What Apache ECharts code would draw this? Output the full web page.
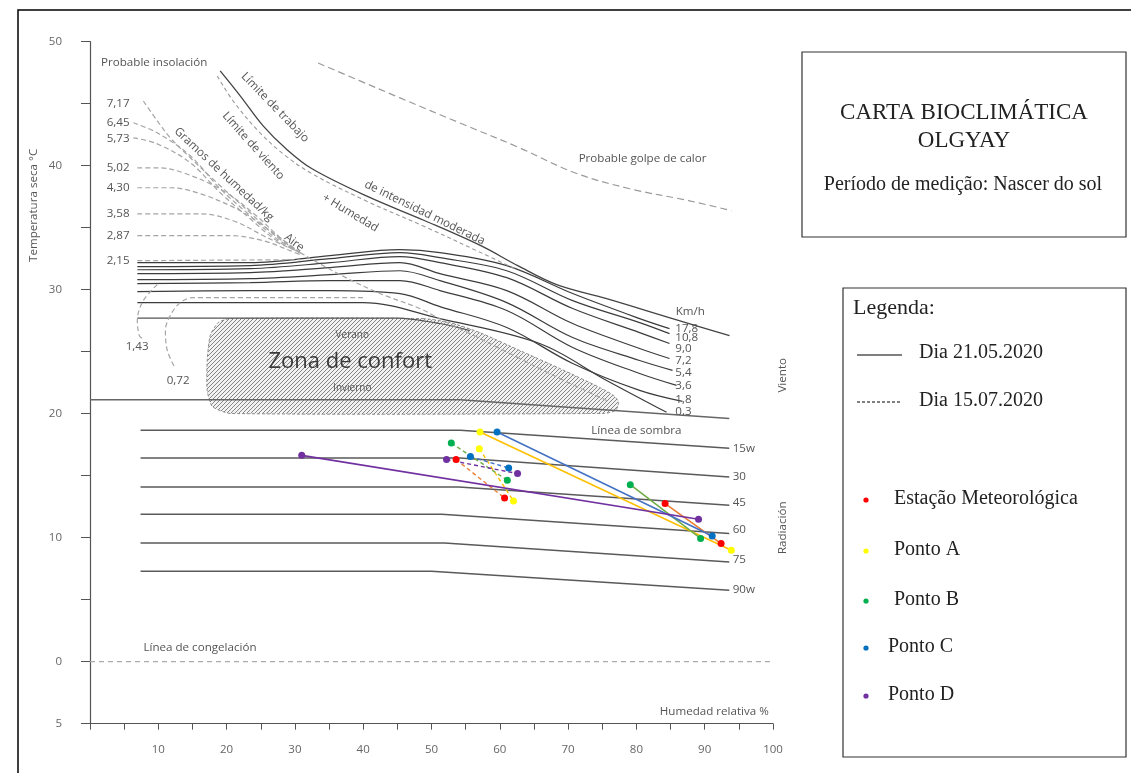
<!DOCTYPE html>
<html><head><meta charset="utf-8">
<script src="https://cdn.jsdelivr.net/npm/echarts/dist/echarts.min.js"></script>
<style>html,body{margin:0;padding:0;background:#fff}#c{width:1131px;height:773px}</style>
</head><body><div id="c"></div>
<script>
// ---------- measured data (x = Humedad relativa %, y = Temperatura seca °C) ----------
const stationNames = ['Estação Meteorológica', 'Ponto A', 'Ponto B', 'Ponto C', 'Ponto D'];
const dayNames = ['Dia 21.05.2020', 'Dia 15.07.2020'];
// Dia 21.05.2020 (solid)
const estacao21 = [[84.2, 12.75], [92.4, 9.53]];
const pontoA21  = [[57.1, 18.52], [93.9, 8.99]];
const pontoB21  = [[79.1, 14.28], [89.4, 9.94]];
const pontoC21  = [[59.6, 18.52], [91.1, 10.14]];
const pontoD21  = [[31.0, 16.64], [89.1, 11.49]];
// Dia 15.07.2020 (dashed)
const estacao15 = [[53.6, 16.30], [60.7, 13.20]];
const pontoA15  = [[57.0, 17.18], [62.0, 12.96]];
const pontoB15  = [[52.9, 17.63], [61.1, 14.63]];
const pontoC15  = [[55.7, 16.54], [61.3, 15.62]];
const pontoD15  = [[52.2, 16.30], [62.6, 15.17]];

// ---------- Olgyay chart background curves ----------
const rad15 = [[7.4, 18.66], [54.2, 18.66], [93.6, 17.21]];
const rad30 = [[7.4, 16.43], [54.2, 16.43], [93.6, 14.90]];
const rad45 = [[7.4, 14.09], [54.0, 14.09], [93.6, 12.62]];
const rad60 = [[7.4, 11.89], [51.5, 11.89], [93.6, 10.34]];
const rad75 = [[7.4, 9.58], [51.9, 9.58], [93.6, 8.05]];
const rad90 = [[7.4, 7.30], [50.0, 7.30], [93.6, 5.77]];
const sombra = [[0, 21.13], [54.2, 21.13], [93.6, 19.62]];
const congelacion = [[0, 0], [100, 0]];

const wind178 = [[6.93,32.18],[23.45,32.18],[35.15,32.75],[45.39,33.23],[51.23,32.99],[61.02,31.94],[70.67,29.69],[80.47,27.67],[84.85,26.86]];
const wind108 = [[6.93,31.86],[23.45,31.94],[35.15,32.50],[45.39,32.99],[51.23,32.58],[61.02,31.53],[70.67,29.12],[80.47,27.35],[84.85,26.46]];
const wind90  = [[6.93,31.61],[23.45,31.70],[35.15,32.18],[45.39,32.67],[51.23,32.18],[61.02,30.97],[70.67,28.48],[80.47,26.54],[84.85,25.66]];
const wind72  = [[6.93,31.29],[23.45,31.37],[35.15,31.78],[45.39,32.18],[51.23,31.29],[61.02,29.93],[70.67,27.27],[80.47,25.26],[84.85,24.45]];
const wind54  = [[6.93,30.81],[23.45,30.89],[35.15,31.21],[45.39,31.53],[51.23,30.73],[61.02,28.96],[70.67,26.14],[80.47,24.29],[85.29,23.49]];
const wind36  = [[6.93,30.49],[23.45,30.57],[35.15,30.73],[45.39,30.73],[51.23,29.93],[61.02,28.32],[70.67,25.34],[80.47,23.24],[85.88,22.28]];
const wind18  = [[6.93,29.85],[23.45,29.93],[35.15,29.93],[45.39,29.69],[51.23,28.64],[61.02,26.95],[70.67,24.05],[80.47,21.88],[86.75,20.99]];
const wind03  = [[6.93,28.96],[23.45,28.96],[39.97,28.96],[51.23,27.67],[65.85,25.66],[75.64,22.68],[84.42,20.11]];
const verano  = [[6.93,27.71],[44.94,27.71],[51.23,27.27],[55.61,26.70]];

const trabajo = [[19.06,47.64],[21.99,45.63],[25.35,43.21],[28.71,41.36],[32.51,39.75],[40.70,37.50],[49.04,35.56],[57.22,33.55],[62.63,31.94],[68.33,30.41],[75.64,29.28],[85.29,27.67],[93.63,26.30]];
const limViento = [[18.63,47.24],[20.96,45.22],[24.62,42.81],[28.27,40.96],[32.51,39.35],[40.70,37.09],[49.04,35.08],[57.22,32.99],[62.19,31.70]];
const golpeCalor = [[33.39,48.28],[39.53,46.84],[45.39,45.47],[54.44,43.38],[62.92,41.44],[70.96,39.43],[79.01,38.14],[87.78,37.17],[93.92,36.37]];

const hum717 = [[7.81,45.22],[9.85,43.62],[11.75,42.25],[14.68,40.64],[19.06,38.38],[23.45,36.21],[27.11,34.36],[30.76,32.99]];
const hum645 = [[6.35,43.46],[9.85,42.65],[14.68,40.80],[19.06,38.14],[23.45,35.97],[27.11,34.20],[30.76,32.99]];
const hum573 = [[6.35,42.25],[9.85,41.76],[14.68,40.24],[19.06,37.82],[23.45,35.72],[27.11,34.04],[30.76,32.99]];
const hum502 = [[6.93,39.83],[9.85,39.83],[13.65,39.43],[19.50,37.98],[24.18,36.04],[27.84,34.20],[30.76,32.99]];
const hum430 = [[6.93,38.22],[11.75,38.22],[16.14,37.74],[21.99,36.37],[26.37,34.76],[30.76,32.99]];
const hum358 = [[6.93,36.12],[16.14,36.12],[20.96,35.56],[25.94,34.20],[30.76,32.99]];
const hum287 = [[6.93,34.36],[20.53,34.36],[25.35,33.95],[29.30,33.15],[30.76,32.83]];
const hum215 = [[6.93,32.34],[30.76,32.42]];
const hum143 = [[9.85,30.41],[7.81,29.12],[6.93,27.51],[7.22,26.30],[7.66,26.06]];
const hum072 = [[39.97,29.36],[15.12,29.36],[13.22,28.96],[11.75,27.91],[11.04,26.70],[11.32,25.10],[12.49,23.65]];
const aire = [[30.76,32.99],[36.61,31.21],[42.46,29.69],[48.30,28.48],[52.25,27.35],[55.61,26.46],[62.92,24.45],[68.77,22.84],[75.64,21.07]];

const comfortZone = [[48.74,27.67],[52.69,27.35],[57.08,26.54],[62.92,25.10],[68.77,23.65],[74.62,22.12],[76.67,21.47],[77.40,20.91],[76.96,20.27],[75.35,20.02],[20.53,20.02],[17.90,20.59],[17.16,21.88],[17.16,24.29],[17.60,26.30],[18.77,27.35],[20.53,27.67]];

// tick labels
const yTickText = {'-5':'5','0':'0','10':'10','20':'20','30':'30','40':'40','50':'50'};
const xTickText = {10:'10',20:'20',30:'30',40:'40',50:'50',60:'60',70:'70',80:'80',90:'90',100:'100'};

// annotations [x, y, text, styleKey]
const notes = [
  [9.4, 48.3, 'Probable insolación', 'plain'],
  [27.1, 44.7, 'Límite de trabajo', 'trabajo'],
  [23.9, 41.6, 'Límite de viento', 'viento'],
  [19.6, 39.3, 'Gramos de humedad/kg', 'gramos'],
  [29.9, 33.8, 'Aire', 'aire'],
  [38.1, 36.2, '+ Humedad', 'humedad'],
  [49.0, 36.2, 'de intensidad moderada', 'moderada'],
  [80.9, 40.6, 'Probable golpe de calor', 'plain'],
  [87.9, 28.2, 'Km/h', 'plain'],
  [85.7, 26.86, '17,8', 'left'], [85.7, 26.14, '10,8', 'left'], [85.7, 25.26, '9,0', 'left'],
  [85.7, 24.29, '7,2', 'left'], [85.7, 23.32, '5,4', 'left'], [85.7, 22.28, '3,6', 'left'],
  [85.7, 21.15, '1,8', 'left'], [85.7, 20.19, '0,3', 'left'],
  [5.8, 44.98, '7,17', 'right'], [5.8, 43.46, '6,45', 'right'], [5.8, 42.17, '5,73', 'right'],
  [5.8, 39.83, '5,02', 'right'], [5.8, 38.22, '4,30', 'right'], [5.8, 36.12, '3,58', 'right'],
  [5.8, 34.36, '2,87', 'right'], [5.8, 32.34, '2,15', 'right'],
  [6.9, 25.4, '1,43', 'plain'], [12.9, 22.7, '0,72', 'plain'],
  [38.4, 26.3, 'Verano', 'small'], [38.1, 24.2, 'Zona de confort', 'zona'], [38.4, 22.1, 'Invierno', 'small'],
  [80.0, 18.66, 'Línea de sombra', 'plain'],
  [94.1, 17.21, '15w', 'left'], [94.1, 14.90, '30', 'left'], [94.1, 12.86, '45', 'left'],
  [94.1, 10.68, '60', 'left'], [94.1, 8.19, '75', 'left'], [94.1, 5.77, '90w', 'left'],
  [16.1, 1.1, 'Línea de congelación', 'plain'],
  [91.4, -4.05, 'Humedad relativa %', 'plain'],
  [-8.3, 36.8, 'Temperatura seca °C', 'vert'],
  [101.4, 23.1, 'Viento', 'vert'],
  [101.4, 10.8, 'Radiación', 'vert']
];

// ---------- styles ----------
const FONT = "'Open Sans', 'DejaVu Sans', sans-serif";
const SERIF = "'Liberation Serif', 'DejaVu Serif', serif";
const NS = 11.6;
const noteStyles = {
  plain:   {rot: 0,   size: NS, align: 'center'},
  left:    {rot: 0,   size: NS, align: 'left'},
  right:   {rot: 0,   size: NS, align: 'right'},
  trabajo: {rot: -46, size: NS, align: 'center'},
  viento:  {rot: -48, size: NS, align: 'center'},
  gramos:  {rot: -43, size: NS, align: 'center'},
  aire:    {rot: -37, size: NS, align: 'center'},
  humedad: {rot: -31, size: NS, align: 'center'},
  moderada:{rot: -26, size: NS, align: 'center'},
  small:   {rot: 0,   size: 10,  align: 'center'},
  zona:    {rot: 0,   size: 22,  align: 'center', fill: '#3a3a3a'},
  vert:    {rot: 90,  size: NS, align: 'center'}
};
const markerColors = ['#ff0000', '#ffff00', '#00b050', '#0070c0', '#7030a0'];
const lineColors   = ['#ed7d31', '#ffc000', '#70ad47', '#4472c4', '#7030a0'];

// hatch pattern for comfort zone
const hatch = document.createElement('canvas');
hatch.width = 4; hatch.height = 4;
(function () {
  const c = hatch.getContext('2d');
  c.fillStyle = '#f2f2f2'; c.fillRect(0, 0, 4, 4);
  c.strokeStyle = '#858585'; c.lineWidth = 1;
  c.beginPath();
  c.moveTo(0, 4); c.lineTo(4, 0);
  c.moveTo(-1, 1); c.lineTo(1, -1);
  c.moveTo(3, 5); c.lineTo(5, 3);
  c.stroke();
})();

function bg(data, color, width, dash, smooth, z) {
  return {type: 'line', data: data, symbol: 'none', smooth: smooth || false, silent: true,
    animation: false, z: z || 2, lineStyle: {color: color, width: width, type: dash || 'solid'}};
}

const series = [];
// comfort zone
series.push({
  type: 'custom', coordinateSystem: 'cartesian2d', silent: true, z: 1, clip: false, animation: false,
  data: [[comfortZone[0][0], comfortZone[0][1]]],
  renderItem: function (params, api) {
    const pts = comfortZone.map(p => api.coord(p));
    return {type: 'polygon', shape: {points: pts, smooth: 0.2},
      style: {fill: {image: hatch, repeat: 'repeat'}, stroke: '#8c8c8c', lineWidth: 1, lineDash: [3, 2]}};
  }
});
[rad15, rad30, rad45, rad60, rad75, rad90].forEach(d => series.push(bg(d, '#5a5a5a', 1.5)));
series.push(bg(sombra, '#666', 1.5));
series.push(bg(congelacion, '#aaa', 1.2, [5, 4]));
[wind178, wind108, wind90, wind72, wind54, wind36, wind18, wind03].forEach(d => series.push(bg(d, '#3c3c3c', 1.2, 'solid', 0.35)));
series.push(bg(verano, '#555', 1.1, 'solid', 0.3));
series.push(bg(trabajo, '#444', 1.3, 'solid', 0.35));
series.push(bg(limViento, '#999', 1.1, [4, 3], 0.35));
series.push(bg(golpeCalor, '#9a9a9a', 1.2, [7, 4], 0.35));
[hum717, hum645, hum573, hum502, hum430, hum358, hum287, hum215, hum143, hum072, aire]
  .forEach(d => series.push(bg(d, '#a5a5a5', 1.2, [5, 3], 0.35)));

// annotations
series.push({
  type: 'custom', coordinateSystem: 'cartesian2d', silent: true, z: 5, clip: false, animation: false,
  data: notes.map(n => [n[0], n[1]]),
  renderItem: function (params, api) {
    const n = notes[params.dataIndex];
    const s = noteStyles[n[3]];
    const p = api.coord([api.value(0), api.value(1)]);
    return {type: 'text', x: p[0], y: p[1], rotation: s.rot * Math.PI / 180,
      style: {text: n[2], fontSize: s.size, fontFamily: FONT, fill: s.fill || '#555',
        align: s.align, verticalAlign: 'middle'}};
  }
});

// measured data
const day21 = [estacao21, pontoA21, pontoB21, pontoC21, pontoD21];
const day15 = [estacao15, pontoA15, pontoB15, pontoC15, pontoD15];
stationNames.forEach((name, i) => {
  series.push({type: 'line', name: name + ' ' + dayNames[0], data: day21[i], symbol: 'circle', symbolSize: 7,
    z: 10, animation: false, itemStyle: {color: markerColors[i]}, lineStyle: {color: lineColors[i], width: 1.6}});
  series.push({type: 'line', name: name + ' ' + dayNames[1], data: day15[i], symbol: 'circle', symbolSize: 7,
    z: 10, animation: false, itemStyle: {color: markerColors[i]}, lineStyle: {color: lineColors[i], width: 1.4, type: [4, 3]}});
});

// boxes, legend
const graphic = [
  {type: 'rect', shape: {x: 18, y: 10, width: 1200, height: 800}, style: {fill: 'none', stroke: '#000', lineWidth: 1.5}, silent: true},
  {type: 'rect', shape: {x: 802, y: 52, width: 324, height: 185}, style: {fill: '#fff', stroke: '#333', lineWidth: 1.2}, silent: true},
  {type: 'text', x: 964, y: 113, style: {text: 'CARTA BIOCLIMÁTICA', font: '23px ' + SERIF, fill: '#222', align: 'center', verticalAlign: 'middle'}},
  {type: 'text', x: 964, y: 141, style: {text: 'OLGYAY', font: '23px ' + SERIF, fill: '#222', align: 'center', verticalAlign: 'middle'}},
  {type: 'text', x: 963, y: 185, style: {text: 'Período de medição: Nascer do sol', font: '20px ' + SERIF, fill: '#222', align: 'center', verticalAlign: 'middle'}},
  {type: 'rect', shape: {x: 843, y: 288, width: 283, height: 469}, style: {fill: '#fff', stroke: '#333', lineWidth: 1.2}, silent: true},
  {type: 'text', x: 853, y: 308, style: {text: 'Legenda:', font: '22px ' + SERIF, fill: '#222', align: 'left', verticalAlign: 'middle'}},
  {type: 'line', shape: {x1: 857, y1: 355, x2: 902, y2: 355}, style: {stroke: '#000', lineWidth: 1.2}},
  {type: 'text', x: 919, y: 353, style: {text: dayNames[0], font: '20px ' + SERIF, fill: '#222', align: 'left', verticalAlign: 'middle'}},
  {type: 'line', shape: {x1: 857, y1: 402, x2: 902, y2: 402}, style: {stroke: '#000', lineWidth: 1, lineDash: [3, 2]}},
  {type: 'text', x: 919, y: 401, style: {text: dayNames[1], font: '20px ' + SERIF, fill: '#222', align: 'left', verticalAlign: 'middle'}}
];
const legY = [499, 550, 600, 647, 695];
const legX = [894, 894, 894, 888, 888];
stationNames.forEach((n, i) => {
  graphic.push({type: 'circle', shape: {cx: 866, cy: legY[i] + 1, r: 2.6}, style: {fill: markerColors[i]}});
  graphic.push({type: 'text', x: legX[i], y: legY[i], style: {text: n, font: '20px ' + SERIF, fill: '#222', align: 'left', verticalAlign: 'middle'}});
});

const chart = echarts.init(document.getElementById('c'), null, {renderer: 'canvas'});
chart.setOption({
  backgroundColor: '#fff',
  animation: false,
  grid: {left: 90, top: 41.7, width: 683, height: 682},
  xAxis: {type: 'value', min: 0, max: 100, interval: 5,
    axisLine: {onZero: false, lineStyle: {color: '#555', width: 1.2}},
    axisTick: {length: 6, lineStyle: {color: '#555'}},
    axisLabel: {margin: 20, color: '#666', fontSize: 11.5, fontFamily: FONT, formatter: v => xTickText[v] || ''},
    splitLine: {show: false}},
  yAxis: {type: 'value', min: -5, max: 50, interval: 5,
    axisLine: {show: true, onZero: false, lineStyle: {color: '#555', width: 1.2}},
    axisTick: {show: true, length: 9, lineStyle: {color: '#555'}},
    axisLabel: {margin: 28, color: '#666', fontSize: 11.5, fontFamily: FONT, formatter: v => yTickText[String(v)] || ''},
    splitLine: {show: false}},
  series: series,
  graphic: graphic
});
</script></body></html>
